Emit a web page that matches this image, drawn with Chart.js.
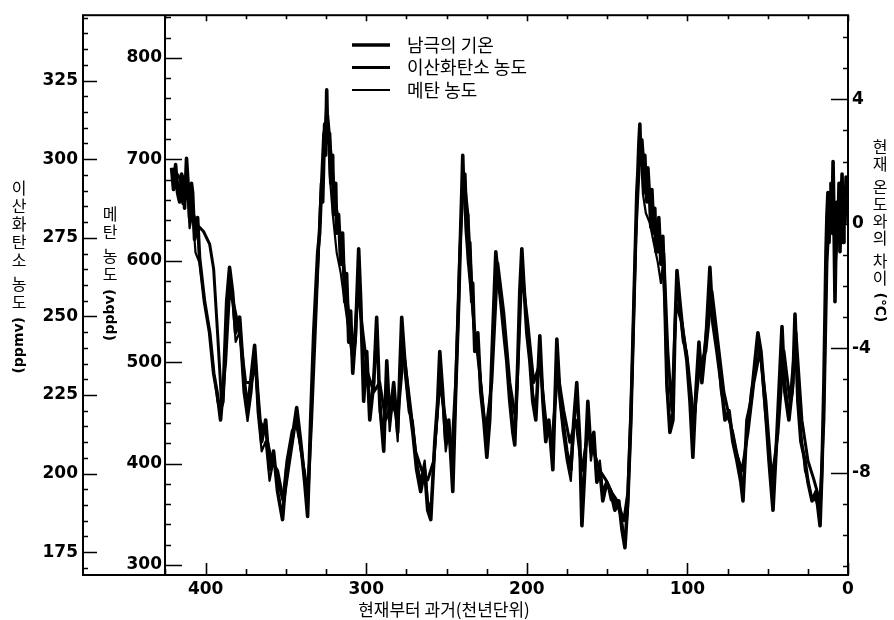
<html>
<head>
    <meta charset="utf-8">
    <title>남극의 기온과 온실기체</title>
    <script src="https://cdn.jsdelivr.net/npm/chart.js"></script>
    <style>
        body { margin: 0; background: #fff; }
        canvas { display: block; }
    </style>
</head>
<body>
<canvas id="graph" width="894" height="620"></canvas>
<script>
    // 기온 시료 연대 (천년 전) 와 현재 온도와의 차이 (°C)
    const tempAges = [
        421.2, 420.0, 418.7, 417.5, 416.2, 415.0, 414.4, 413.1, 411.9, 410.6, 410.0, 408.8, 408.1, 406.9, 406.3, 405.0, 403.8,
        400.7, 397.5, 395.0, 392.6, 390.7, 388.8, 386.9, 385.1, 383.2, 381.3, 378.8, 376.4, 373.9, 371.4, 369.5, 367.6,
        365.1, 362.6, 360.2, 357.7, 355.2, 352.1, 349.6, 346.4, 343.3, 340.8, 338.3, 336.5, 334.6, 332.7, 330.2,
        329.0, 327.8, 327.1, 325.9, 325.3, 324.6, 324.0, 322.8, 322.1, 320.9, 320.3, 319.0, 318.4, 317.2, 315.9, 314.7, 313.4, 312.2, 310.9, 309.7, 308.4, 306.6, 304.7, 303.4,
        301.6, 299.7, 297.8, 295.3, 293.5, 291.6, 289.1, 287.2, 285.4, 282.9, 280.4, 277.9, 276.0, 273.5, 271.0,
        268.6, 266.1, 263.6, 261.7, 259.8, 257.3, 255.5, 254.2, 252.4, 250.5, 248.6, 246.1, 244.3, 242.4, 241.1,
        240.5, 239.9, 239.3, 238.6, 238.0, 237.4, 236.8, 236.2, 235.5, 234.3, 233.7, 232.4,
        230.5, 228.7, 226.8, 224.9, 223.1, 221.2, 219.3, 218.1, 216.2, 214.3, 212.5, 210.6, 208.7, 207.5, 205.6, 204.4, 203.1, 201.9,
        200.0, 198.1, 196.3, 194.4, 191.9, 190.0, 188.2, 186.3, 183.8, 181.3, 179.5, 177.6, 175.1, 172.6, 170.7, 168.9, 167.0,
        165.7, 163.9, 162.0, 160.1, 158.3, 156.4, 154.5, 152.7, 150.2, 147.7, 145.2, 142.7, 140.8, 138.9, 137.1, 135.2, 133.3, 131.5,
        130.9, 130.2, 129.6, 129.0, 128.4, 127.7, 127.1, 126.5, 125.9, 125.2, 124.6, 123.4, 122.8, 122.1, 120.9, 120.3, 119.6, 118.4, 117.8, 116.5, 115.3,
        114.0, 112.8, 110.9, 109.0, 107.8, 106.5, 104.7, 102.8, 100.3, 98.4, 96.6, 94.7, 92.8, 91.0, 88.5, 86.0, 84.1,
        81.6, 79.1, 76.6, 74.1, 71.7, 69.2, 66.7, 65.4, 62.9, 60.4, 57.9, 56.1, 54.2, 51.7, 49.2, 46.7, 44.2,
        41.1, 39.3, 36.8, 34.3, 33.0, 31.2, 29.3, 26.8, 24.9, 22.4, 19.9, 17.4, 16.2, 15.0, 13.7,
        13.1, 12.5, 11.8, 11.2, 10.6, 10.0, 9.3, 8.7, 8.1, 7.5, 6.9, 6.2, 5.6, 5.0, 4.4, 3.7, 3.1, 2.5, 1.9, 1.2, 0.6
    ];
    const temperature = [
        1.8, 1.1, 1.9, 1.0, 0.7, 1.6, 1.5, 0.5, 2.1, 1.0, 0.2, 1.3, 1.0, -0.5, -0.3, 0.2, -1.1,
        -2.5, -3.5, -4.8, -5.5, -6.3, -5.1, -2.5, -1.4, -2.2, -3.5, -3.0, -4.8, -6.0, -4.8, -3.9, -5.4,
        -7.0, -6.3, -7.9, -7.3, -8.6, -9.5, -7.9, -7.0, -5.9, -7.0, -8.3, -9.4, -6.3, -3.5, -0.9,
        -0.3, 1.3, 0.7, 3.2, 2.2, 4.3, 2.6, 2.9, 1.3, 2.2, 0.3, 1.3, -0.3, 0.3, -1.3, -0.3, -2.5, -1.6, -3.8, -2.8, -4.8, -3.5, -0.8, -2.5,
        -5.7, -4.1, -6.3, -5.1, -3.0, -5.7, -7.3, -4.4, -6.3, -5.1, -6.7, -3.0, -4.4, -5.7, -6.7,
        -7.9, -8.6, -7.9, -9.2, -9.5, -7.0, -5.7, -4.1, -5.4, -7.0, -6.3, -8.6, -5.4, -2.5, 0.0,
        1.0, 2.2, 1.1, 1.6, 0.7, -0.3, 0.3, -1.3, -0.6, -2.5, -1.9, -4.1,
        -3.5, -5.4, -6.3, -7.5, -6.3, -3.5, -0.9, -1.6, -2.5, -3.5, -4.4, -5.7, -6.7, -7.1, -4.4, -2.2, -0.8, -1.9,
        -3.5, -4.4, -5.7, -6.3, -3.6, -5.7, -7.0, -6.3, -7.9, -3.7, -5.4, -6.3, -7.3, -7.9, -6.3, -5.1, -7.0,
        -9.7, -7.9, -5.7, -7.3, -6.7, -8.3, -7.9, -8.9, -8.3, -8.6, -9.2, -8.9, -9.8, -10.4, -8.9, -6.3, -2.5, 1.0,
        1.6, 2.6, 3.2, 1.9, 2.7, 2.2, 1.0, 2.2, 1.3, 0.7, 1.8, 0.7, -0.1, 1.1, -0.3, 0.5, -0.9, -0.9, 0.2, -1.3, -0.4,
        -2.5, -5.1, -6.7, -6.3, -3.5, -1.5, -2.5, -3.5, -4.4, -5.7, -7.5, -5.4, -3.8, -5.1, -3.8, -1.4, -3.2,
        -4.1, -5.1, -6.3, -6.0, -7.0, -7.6, -8.3, -8.9, -6.3, -5.7, -4.4, -3.5, -4.1, -5.7, -7.6, -9.2, -6.7,
        -3.3, -5.4, -6.3, -5.1, -2.9, -5.7, -7.0, -7.6, -8.3, -8.9, -8.6, -9.7, -7.9, -5.1, -0.9,
        0.3, 1.0, -0.6, 0.7, 1.3, -0.3, 2.0, 0.0, -2.5, -0.6, 0.7, -0.3, 1.3, -0.9, 0.3, 1.6, -0.6, 1.0, 0.0, 1.5, 0.8
    ];
    // 메탄 시료 연대 (천년 전) 와 농도 (ppbv)
    const methaneAges = [
        421.2, 418.7, 416.2, 414.4, 411.9, 410.0, 408.1, 406.3, 403.8, 400.7,
        397.5, 395.0, 392.6, 390.7, 388.8, 386.9, 385.1, 383.2, 381.3, 378.8,
        376.4, 373.9, 371.4, 369.5, 367.6, 365.1, 362.6, 360.2, 357.7, 355.2,
        352.1, 349.6, 346.4, 343.3, 340.8, 338.3, 336.5, 334.6, 332.7, 330.2,
        327.8, 325.9, 324.6, 322.8, 320.9, 318.4, 315.9, 313.4, 310.9, 308.4,
        306.6, 304.7, 303.4, 301.6, 299.7, 297.8, 295.3, 293.5, 291.6, 289.1,
        287.2, 285.4, 282.9, 280.4, 277.9, 276.0, 273.5, 271.0, 268.6, 266.1,
        263.6, 261.7, 259.8, 257.3, 255.5, 254.2, 252.4, 250.5, 248.6, 246.1,
        244.3, 242.4, 241.1, 239.9, 238.0, 236.2, 234.3, 232.4, 230.5, 228.7,
        226.8, 224.9, 223.1, 221.2, 219.3, 218.1, 216.2, 214.3, 212.5, 210.6,
        208.7, 207.5, 205.6, 204.4, 203.1, 201.9, 200.0, 198.1, 196.3, 194.4,
        191.9, 190.0, 188.2, 186.3, 183.8, 181.3, 179.5, 177.6, 175.1, 172.6,
        170.7, 168.9, 167.0, 165.7, 163.9, 162.0, 160.1, 158.3, 156.4, 154.5,
        152.7, 150.2, 147.7, 145.2, 142.7, 140.8, 138.9, 137.1, 135.2, 133.3,
        131.5, 129.6, 127.7, 125.9, 123.4, 120.9, 118.4, 116.5, 115.3, 114.0,
        112.8, 110.9, 109.0, 107.8, 106.5, 104.7, 102.8, 100.3, 98.4, 96.6,
        94.7, 92.8, 91.0, 88.5, 86.0, 84.1, 81.6, 79.1, 76.6, 74.1,
        71.7, 69.2, 66.7, 65.4, 62.9, 60.4, 57.9, 56.1, 54.2, 51.7,
        49.2, 46.7, 44.2, 41.1, 39.3, 36.8, 34.3, 33.0, 31.2, 29.3,
        26.8, 24.9, 22.4, 19.9, 17.4, 16.2, 15.0, 13.7, 12.5, 10.6,
        9.3, 8.1, 6.2, 4.4, 2.5, 0.6
    ];
    const methane = [
        681, 686, 671, 656, 686, 632, 647, 608, 598, 559,
        530, 490, 461, 451, 461, 539, 578, 559, 520, 530,
        471, 442, 471, 510, 451, 412, 422, 383, 403, 383,
        364, 403, 432, 442, 412, 393, 373, 432, 510, 588,
        666, 725, 759, 686, 647, 608, 588, 559, 530, 500,
        520, 603, 549, 471, 500, 451, 490, 539, 451, 422,
        490, 432, 471, 422, 539, 490, 451, 442, 403, 383,
        403, 364, 354, 412, 451, 500, 461, 412, 432, 383,
        461, 549, 627, 696, 627, 590, 559, 520, 520, 481,
        451, 422, 442, 520, 598, 588, 569, 539, 510, 471,
        442, 422, 490, 559, 603, 578, 539, 510, 471, 451,
        515, 471, 432, 442, 403, 510, 461, 432, 403, 383,
        432, 471, 412, 364, 393, 451, 403, 422, 383, 403,
        373, 383, 364, 364, 354, 344, 324, 354, 432, 549,
        656, 725, 666, 647, 637, 617, 598, 578, 598, 549,
        471, 442, 451, 520, 578, 549, 520, 510, 471, 422,
        461, 510, 490, 530, 578, 549, 520, 471, 451, 442,
        432, 412, 393, 373, 432, 471, 490, 520, 500, 451,
        412, 364, 422, 520, 481, 451, 471, 530, 461, 432,
        393, 383, 364, 364, 349, 383, 471, 598, 627, 666,
        656, 588, 627, 647, 637, 656
    ];
    // 이산화탄소 시료 연대 (천년 전) 와 농도 (ppmv)
    const co2Ages = [
        420.0, 416.2, 412.5, 408.8, 405.0, 401.3, 397.5, 395.0, 392.6, 390.1,
        387.6, 385.1, 382.6, 378.8, 375.1, 371.4, 368.9, 366.4, 362.6, 358.9,
        355.2, 351.4, 347.7, 343.9, 340.2, 336.5, 334.0, 331.5, 329.0, 326.5,
        324.0, 321.5, 319.0, 315.3, 311.6, 307.8, 305.3, 302.8, 299.1, 295.3,
        291.6, 287.9, 284.1, 280.4, 276.7, 272.9, 269.2, 265.4, 261.7, 258.0,
        254.2, 250.5, 246.7, 244.3, 241.8, 239.3, 236.8, 233.0, 229.3, 225.6,
        221.8, 218.1, 214.3, 210.6, 206.9, 203.1, 199.4, 195.7, 191.9, 188.2,
        184.4, 180.7, 177.0, 173.2, 169.5, 165.7, 162.0, 158.3, 154.5, 150.8,
        147.1, 143.3, 139.6, 137.1, 134.6, 132.1, 129.6, 125.9, 122.1, 118.4,
        114.7, 112.2, 109.7, 107.2, 103.4, 99.7, 96.0, 92.2, 88.5, 84.7,
        81.0, 77.3, 73.5, 69.8, 66.0, 62.3, 58.6, 54.8, 51.1, 47.4,
        43.6, 39.9, 36.1, 32.4, 28.7, 24.9, 21.2, 17.4, 15.0, 13.1,
        11.2, 8.1, 5.0, 1.2
    ];
    const co2 = [
        297, 294, 289, 284, 279, 277, 273, 265, 245, 223,
        235, 258, 254, 245, 229, 229, 235, 217, 213, 204,
        201, 191, 204, 217, 207, 191, 217, 248, 280, 308,
        314, 299, 286, 273, 254, 239, 258, 248, 232, 226,
        229, 217, 223, 217, 239, 223, 207, 201, 198, 204,
        229, 217, 207, 229, 270, 295, 283, 248, 232, 213,
        229, 267, 251, 229, 217, 264, 248, 229, 235, 217,
        210, 232, 220, 210, 217, 201, 213, 207, 201, 198,
        194, 191, 185, 194, 229, 276, 302, 295, 286, 276,
        270, 239, 220, 254, 248, 235, 217, 235, 239, 258,
        242, 226, 217, 207, 201, 213, 229, 239, 223, 198,
        213, 239, 223, 245, 217, 204, 198, 191, 217, 267,
        286, 286, 286, 289
    ];

    const xTicks = [400, 300, 200, 100, 0];
    const co2Ticks = [175, 200, 225, 250, 275, 300, 325];
    const methaneTicks = [300, 400, 500, 600, 700, 800];
    const tempTicks = [-8, -4, 0, 4];

    const seriesLabels = ['남극의 기온', '이산화탄소 농도', '메탄 농도'];
    const xTitle = '현재부터 과거(천년단위)';
    const co2Title = ['이산화탄소', '농도', '(ppmv)'];
    const methaneTitle = ['메탄', '농도', '(ppbv)'];
    const tempTitle = ['현재', '온도와의', '차이', '(℃)'];

    const tickFont = { family: '"DejaVu Sans", sans-serif', size: 17, weight: 'bold' };
    const hangulFont = '16px "Noto Sans CJK KR", sans-serif';
    const unitFont = 'bold 14px "DejaVu Sans", "Noto Sans CJK KR", sans-serif';

    function fixedTicks(values) {
        return axis => { axis.ticks = values.map(v => ({ value: v })); };
    }

    function plainAxis(extra) {
        return Object.assign({
            grid: { display: false, drawTicks: false },
            border: { display: false },
        }, extra);
    }

    function points(xs, ys) {
        return xs.map((x, i) => ({ x: x, y: ys[i] }));
    }

    // 눈금 표시 (축 안쪽으로)
    function marksY(ctx, scale, x, dir, step, major, longLen, shortLen) {
        const first = Math.ceil(scale.min / step);
        const last = Math.floor(scale.max / step);
        ctx.beginPath();
        for (let k = first; k <= last; k++) {
            const v = k * step;
            const y = Math.round(scale.getPixelForValue(v)) + 0.5;
            const len = v % major === 0 ? longLen : shortLen;
            ctx.moveTo(x, y);
            ctx.lineTo(x + dir * len, y);
        }
        ctx.stroke();
    }

    function marksX(ctx, scale, y, dir, step, major, longLen, shortLen) {
        const first = Math.ceil(scale.min / step);
        const last = Math.floor(scale.max / step);
        ctx.beginPath();
        for (let k = first; k <= last; k++) {
            const v = k * step;
            const x = Math.round(scale.getPixelForValue(v)) + 0.5;
            const len = v % major === 0 ? longLen : shortLen;
            ctx.moveTo(x, y);
            ctx.lineTo(x, y + dir * len);
        }
        ctx.stroke();
    }

    const frame = {
        id: 'frame',
        afterDatasetsDraw(chart) {
            const { ctx, chartArea: area, scales } = chart;
            const outer = scales.yCO2.right;
            ctx.save();
            ctx.strokeStyle = '#000';
            ctx.lineWidth = 2;
            ctx.strokeRect(outer, area.top, area.right - outer, area.bottom - area.top);
            ctx.beginPath();
            ctx.moveTo(area.left, area.top);
            ctx.lineTo(area.left, area.bottom);
            ctx.stroke();
            ctx.lineWidth = 1.6;
            marksY(ctx, scales.yCO2, outer, 1, 5, 25, 14, 5);
            marksY(ctx, scales.yCH4, area.left, 1, 20, 100, 17, 6);
            marksY(ctx, scales.yTemp, area.right, -1, 1, 4, 17, 5);
            marksX(ctx, scales.x, area.bottom, -1, 25, 100, 12, 6);
            marksX(ctx, scales.x, area.top, 1, 25, 100, 6, 4);
            ctx.restore();
        }
    };

    // 세로 제목: 한글은 한 글자씩 세우고 단위는 눕혀서
    function drawVertical(ctx, parts, x, yStart, step, gap, turn) {
        let y = yStart;
        parts.forEach(part => {
            if (part.startsWith('(')) {
                ctx.font = unitFont;
                const w = ctx.measureText(part).width;
                ctx.save();
                ctx.translate(x, y - step / 2 + w / 2);
                ctx.rotate(turn * Math.PI / 2);
                ctx.fillText(part, 0, 0);
                ctx.restore();
                y += w + gap;
            } else {
                ctx.font = hangulFont;
                for (const ch of part) {
                    ctx.fillText(ch, x, y);
                    y += step;
                }
                y += gap;
            }
        });
    }

    const titles = {
        id: 'titles',
        afterDraw(chart) {
            const ctx = chart.ctx;
            ctx.save();
            ctx.fillStyle = '#000';
            ctx.textAlign = 'center';
            ctx.textBaseline = 'middle';
            drawVertical(ctx, co2Title, 19, 188, 18, 6, -1);
            drawVertical(ctx, methaneTitle, 110, 214, 18, 6, -1);
            drawVertical(ctx, tempTitle, 880, 147, 17, 6, 1);
            ctx.font = '17px "Noto Sans CJK KR", sans-serif';
            ctx.fillText(xTitle, 444, 610);
            ctx.restore();
        }
    };

    const legendBox = {
        id: 'legendBox',
        afterDraw(chart) {
            const ctx = chart.ctx;
            ctx.save();
            ctx.fillStyle = '#000';
            ctx.strokeStyle = '#000';
            ctx.font = '18px "Noto Sans CJK KR", sans-serif';
            ctx.textBaseline = 'middle';
            chart.data.datasets.forEach((ds, i) => {
                const y = 45 + i * 22.5;
                ctx.lineWidth = ds.borderWidth;
                ctx.beginPath();
                ctx.moveTo(352, y);
                ctx.lineTo(390, y);
                ctx.stroke();
                ctx.fillText(ds.label, 407, y);
            });
            ctx.restore();
        }
    };

    new Chart(document.getElementById('graph'), {
        type: 'line',
        data: {
            datasets: [
                {
                    label: seriesLabels[0],
                    data: points(tempAges, temperature),
                    yAxisID: 'yTemp',
                    borderColor: '#000',
                    borderWidth: 3.6,
                },
                {
                    label: seriesLabels[1],
                    data: points(co2Ages, co2),
                    yAxisID: 'yCO2',
                    borderColor: '#000',
                    borderWidth: 3,
                },
                {
                    label: seriesLabels[2],
                    data: points(methaneAges, methane),
                    yAxisID: 'yCH4',
                    borderColor: '#000',
                    borderWidth: 2.2,
                },
            ]
        },
        options: {
            responsive: false,
            animation: false,
            events: [],
            layout: { padding: { top: 10 } },
            elements: {
                point: { radius: 0 },
                line: { tension: 0, borderJoinStyle: 'round' },
            },
            plugins: {
                legend: { display: false },
                tooltip: { enabled: false },
            },
            scales: {
                x: plainAxis({
                    type: 'linear',
                    position: 'bottom',
                    reverse: true,
                    min: 0,
                    max: 425.3,
                    afterBuildTicks: fixedTicks(xTicks),
                    afterFit: s => { s.height = 45; },
                    ticks: { font: tickFont, color: '#000', padding: 4, autoSkip: false, maxRotation: 0 },
                }),
                yCO2: plainAxis({
                    position: 'left',
                    weight: 1,
                    min: 167.75,
                    max: 345.8,
                    afterBuildTicks: fixedTicks(co2Ticks),
                    afterFit: s => { s.width = 83; },
                    ticks: { font: tickFont, color: '#000', padding: 5, autoSkip: false },
                }),
                yCH4: plainAxis({
                    position: 'left',
                    weight: 0,
                    min: 290.2,
                    max: 842,
                    afterBuildTicks: fixedTicks(methaneTicks),
                    afterFit: s => { s.width = 82; },
                    ticks: { font: tickFont, color: '#000', padding: 3, autoSkip: false },
                }),
                yTemp: plainAxis({
                    position: 'right',
                    min: -11.28,
                    max: 6.7,
                    afterBuildTicks: fixedTicks(tempTicks),
                    afterFit: s => { s.width = 46; },
                    ticks: { font: tickFont, color: '#000', padding: 4, autoSkip: false },
                }),
            }
        },
        plugins: [frame, titles, legendBox]
    });
</script>
</body>
</html>
